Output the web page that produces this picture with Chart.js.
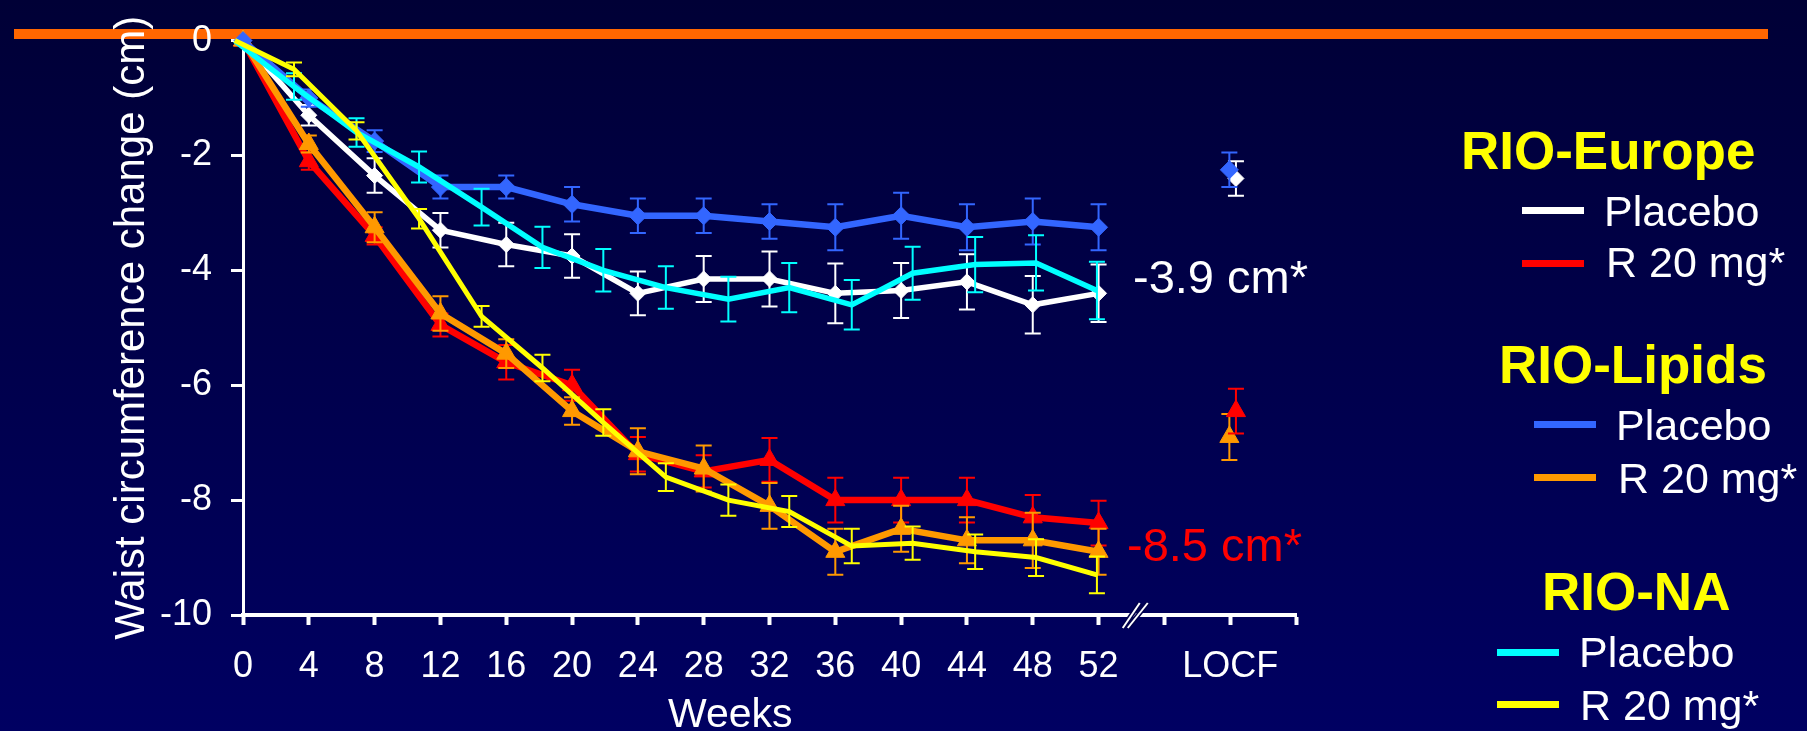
<!DOCTYPE html>
<html>
<head>
<meta charset="utf-8">
<script src="https://cdn.jsdelivr.net/npm/chart.js@4.4.1/dist/chart.umd.min.js"></script>
<style>
html,body{margin:0;padding:0;}
body{width:1807px;height:731px;overflow:hidden;position:relative;
  background:linear-gradient(to bottom,#000036,#000062);
  font-family:"Liberation Sans",Arial,sans-serif;}
#topBar{position:absolute;left:14px;top:29px;width:1754px;height:10px;background:#ff6600;}
#chart{position:absolute;left:0;top:0;}
.txt{position:absolute;white-space:nowrap;line-height:1;color:#fff;}
.head{font-weight:bold;font-size:53px;color:#ffff00;}
.item{font-size:43px;}
.legLine{position:absolute;height:7px;width:62px;}
</style>
</head>
<body>
<div id="topBar"></div>
<canvas id="chart" width="1807" height="731"></canvas>

<div class="txt" style="left:668px;top:693px;font-size:41px;">Weeks</div>
<div class="txt" style="left:1133px;top:253px;font-size:47px;">-3.9 cm*</div>
<div class="txt" style="left:1127px;top:521px;font-size:47px;color:#ff0000;">-8.5 cm*</div>

<div class="txt head" style="left:1461px;top:124px;">RIO-Europe</div>
<div class="legLine" style="left:1522px;top:207px;background:#ffffff;"></div>
<div class="txt item" style="left:1604px;top:190px;">Placebo</div>
<div class="legLine" style="left:1522px;top:260px;background:#ff0000;"></div>
<div class="txt item" style="left:1606px;top:241px;">R 20 mg*</div>

<div class="txt head" style="left:1499px;top:338px;">RIO-Lipids</div>
<div class="legLine" style="left:1534px;top:421px;background:#3366ff;"></div>
<div class="txt item" style="left:1616px;top:404px;">Placebo</div>
<div class="legLine" style="left:1534px;top:474px;background:#ff9900;"></div>
<div class="txt item" style="left:1618px;top:457px;">R 20 mg*</div>

<div class="txt head" style="left:1542px;top:565px;">RIO-NA</div>
<div class="legLine" style="left:1497px;top:649px;background:#00ffff;"></div>
<div class="txt item" style="left:1579px;top:631px;">Placebo</div>
<div class="legLine" style="left:1497px;top:701px;background:#ffff00;"></div>
<div class="txt item" style="left:1580px;top:684px;">R 20 mg*</div>

<script>
// weeks for RIO-Europe and RIO-Lipids
const weeks = [0, 4, 8, 12, 16, 20, 24, 28, 32, 36, 40, 44, 48, 52];

// RIO-Europe
const europePlacebo    = [0, -1.3, -2.35, -3.3, -3.55, -3.75, -4.4, -4.15, -4.15, -4.4, -4.35, -4.2, -4.6, -4.4];
const europePlaceboErr = [0, 0.18, 0.3, 0.3, 0.38, 0.38, 0.38, 0.4, 0.48, 0.52, 0.48, 0.48, 0.5, 0.5];
const europeDrug       = [0, -2.1, -3.4, -4.95, -5.6, -6.0, -7.2, -7.5, -7.3, -8.0, -8.0, -8.0, -8.3, -8.4];
const europeDrugErr    = [0, 0.15, 0.15, 0.2, 0.3, 0.27, 0.3, 0.28, 0.38, 0.39, 0.39, 0.39, 0.39, 0.39];

// RIO-Lipids
const lipidsPlacebo    = [0, -1.0, -1.75, -2.55, -2.55, -2.85, -3.05, -3.05, -3.15, -3.25, -3.05, -3.25, -3.15, -3.25];
const lipidsPlaceboErr = [0, 0.15, 0.19, 0.2, 0.2, 0.3, 0.3, 0.3, 0.3, 0.4, 0.4, 0.4, 0.4, 0.4];
const lipidsDrug       = [0, -1.8, -3.25, -4.75, -5.45, -6.45, -7.15, -7.45, -8.1, -8.9, -8.5, -8.7, -8.7, -8.9];
const lipidsDrugErr    = [0, 0.15, 0.26, 0.3, 0.25, 0.24, 0.4, 0.4, 0.4, 0.4, 0.4, 0.4, 0.48, 0.4];

// RIO-NA (plotted at its own visit positions)
const naWeeks      = [-0.5, 3.1, 6.9, 10.7, 14.5, 18.2, 21.9, 25.7, 29.5, 33.2, 37.0, 40.7, 44.5, 48.2, 51.9];
const naPlacebo    = [0, -0.8, -1.6, -2.2, -2.9, -3.6, -4.0, -4.3, -4.5, -4.3, -4.6, -4.05, -3.9, -3.87, -4.35];
const naPlaceboErr = [0, 0.23, 0.25, 0.27, 0.32, 0.36, 0.37, 0.37, 0.39, 0.43, 0.43, 0.46, 0.48, 0.48, 0.5];
const naDrug       = [0, -0.5, -1.57, -3.1, -4.8, -5.7, -6.65, -7.6, -8.0, -8.2, -8.8, -8.75, -8.9, -9.0, -9.3];
const naDrugErr    = [0, 0.12, 0.15, 0.17, 0.18, 0.23, 0.23, 0.24, 0.27, 0.27, 0.3, 0.29, 0.3, 0.32, 0.32];

// LOCF end points
const locfLeftX  = 59.95;   // Lipids
const locfRightX = 60.35;   // Europe
const locfEuropePlacebo = -2.4,  locfEuropePlaceboErr = 0.3;
const locfEuropeDrug    = -6.45, locfEuropeDrugErr    = 0.39;
const locfLipidsPlacebo = -2.25, locfLipidsPlaceboErr = 0.3;
const locfLipidsDrug    = -6.9,  locfLipidsDrugErr    = 0.4;

// axes
const xTickValues = [0, 4, 8, 12, 16, 20, 24, 28, 32, 36, 40, 44, 48, 52, 56, 60, 64];
const xTickLabels = ['0','4','8','12','16','20','24','28','32','36','40','44','48','52','','LOCF',''];
const yTickValues = [-10, -8, -6, -4, -2, 0];
const yTickLabels = ['-10', '-8', '-6', '-4', '-2', '0'];
const axisBreakAt = 54.2;

const WHITE = '#ffffff', RED = '#ff0000', BLUE = '#3366ff', ORANGE = '#ff9900', CYAN = '#00ffff', YELLOW = '#ffff00';
const BG = '#00004a';

function pts(xs, ys){ return xs.map((x, i) => ({x: x, y: ys[i]})); }

function series(label, xs, ys, errs, color, width, style, radius, order){
    return {
        label: label,
        data: pts(xs, ys),
        errors: errs,
        borderColor: color,
        backgroundColor: color,
        borderWidth: width,
        pointStyle: style,
        pointRadius: radius,
        pointBorderWidth: 1,
        pointBackgroundColor: color,
        pointBorderColor: color,
        showLine: width > 0,
        tension: 0,
        clip: false,
        order: order
    };
}

// error bars, drawn just under each dataset
const errorBars = {
    id: 'errorBars',
    beforeDatasetDraw(chart, args){
        const ds = chart.data.datasets[args.index];
        if(!ds.errors) return;
        const {ctx} = chart;
        const xs = chart.scales.x, ys = chart.scales.y;
        ctx.save();
        ctx.strokeStyle = ds.borderColor;
        ctx.lineWidth = 2;
        ds.data.forEach((p, i) => {
            const e = ds.errors[i];
            if(!e) return;
            const px = xs.getPixelForValue(p.x);
            const y1 = ys.getPixelForValue(p.y + e);
            const y2 = ys.getPixelForValue(p.y - e);
            ctx.beginPath();
            ctx.moveTo(px, y1); ctx.lineTo(px, y2);
            ctx.moveTo(px - 8, y1); ctx.lineTo(px + 8, y1);
            ctx.moveTo(px - 8, y2); ctx.lineTo(px + 8, y2);
            ctx.stroke();
        });
        ctx.restore();
    }
};

// the "//" mark on the x axis
const axisBreak = {
    id: 'axisBreak',
    afterDraw(chart){
        const {ctx} = chart;
        const bx = chart.scales.x.getPixelForValue(axisBreakAt);
        const by = chart.scales.y.getPixelForValue(-10);
        ctx.save();
        ctx.lineCap = 'butt';
        [[-12, 5], [-7, 13]].forEach(([a, b]) => {
            ctx.strokeStyle = BG; ctx.lineWidth = 5;
            ctx.beginPath(); ctx.moveTo(bx + a, by + 13); ctx.lineTo(bx + b, by - 12); ctx.stroke();
        });
        [[-12, 5], [-7, 13]].forEach(([a, b]) => {
            ctx.strokeStyle = WHITE; ctx.lineWidth = 2;
            ctx.beginPath(); ctx.moveTo(bx + a, by + 13); ctx.lineTo(bx + b, by - 12); ctx.stroke();
        });
        ctx.restore();
    }
};

Chart.defaults.font.family = '"Liberation Sans", Arial, sans-serif';
Chart.defaults.color = '#ffffff';

new Chart(document.getElementById('chart'), {
    type: 'line',
    data: {
        datasets: [
            series('RIO-NA R 20 mg', naWeeks, naDrug, naDrugErr, YELLOW, 5, 'circle', 0, 0),
            series('RIO-NA Placebo', naWeeks, naPlacebo, naPlaceboErr, CYAN, 5.5, 'circle', 0, 1),
            series('RIO-Lipids Placebo', weeks, lipidsPlacebo, lipidsPlaceboErr, BLUE, 6.5, 'rectRot', 9, 2),
            series('RIO-Lipids R 20 mg', weeks, lipidsDrug, lipidsDrugErr, ORANGE, 6.5, 'triangle', 11, 3),
            series('RIO-Europe R 20 mg', weeks, europeDrug, europeDrugErr, RED, 6.5, 'triangle', 11, 4),
            series('RIO-Europe Placebo', weeks, europePlacebo, europePlaceboErr, WHITE, 5.5, 'rectRot', 8, 5),
            series('LOCF Lipids Placebo', [locfLeftX], [locfLipidsPlacebo], [locfLipidsPlaceboErr], BLUE, 0, 'rectRot', 9, 6),
            series('LOCF Europe Placebo', [locfRightX], [locfEuropePlacebo], [locfEuropePlaceboErr], WHITE, 0, 'rectRot', 8, 7),
            series('LOCF Europe R 20 mg', [locfRightX], [locfEuropeDrug], [locfEuropeDrugErr], RED, 0, 'triangle', 11, 8),
            series('LOCF Lipids R 20 mg', [locfLeftX], [locfLipidsDrug], [locfLipidsDrugErr], ORANGE, 0, 'triangle', 11, 9)
        ]
    },
    options: {
        responsive: false,
        animation: false,
        layout: {padding: {left: 0, top: 40, right: 511, bottom: 0}},
        plugins: {legend: {display: false}, tooltip: {enabled: false}},
        scales: {
            x: {
                type: 'linear', min: 0, max: 64,
                afterBuildTicks(s){ s.ticks = xTickValues.map(v => ({value: v})); },
                afterFit(s){ s.height = 116; },
                ticks: {color: WHITE, font: {size: 36}, padding: 20, autoSkip: false, maxRotation: 0,
                        callback: (v, i) => xTickLabels[i]},
                grid: {drawOnChartArea: false, tickLength: 10, tickWidth: 4, tickColor: WHITE},
                border: {display: true, color: WHITE, width: 4}
            },
            y: {
                min: -10, max: 0,
                afterBuildTicks(s){ s.ticks = yTickValues.map(v => ({value: v})); },
                afterFit(s){ s.width = 243; },
                ticks: {color: WHITE, font: {size: 36}, padding: 19,
                        callback: (v, i) => yTickLabels[i]},
                grid: {drawOnChartArea: false, tickLength: 12, tickWidth: 3, tickColor: WHITE},
                border: {display: true, color: WHITE, width: 3},
                title: {display: true, text: 'Waist circumference change (cm)', color: WHITE,
                        font: {size: 42}, padding: {top: 107, bottom: 0}}
            }
        }
    },
    plugins: [errorBars, axisBreak]
});
</script>
</body>
</html>
